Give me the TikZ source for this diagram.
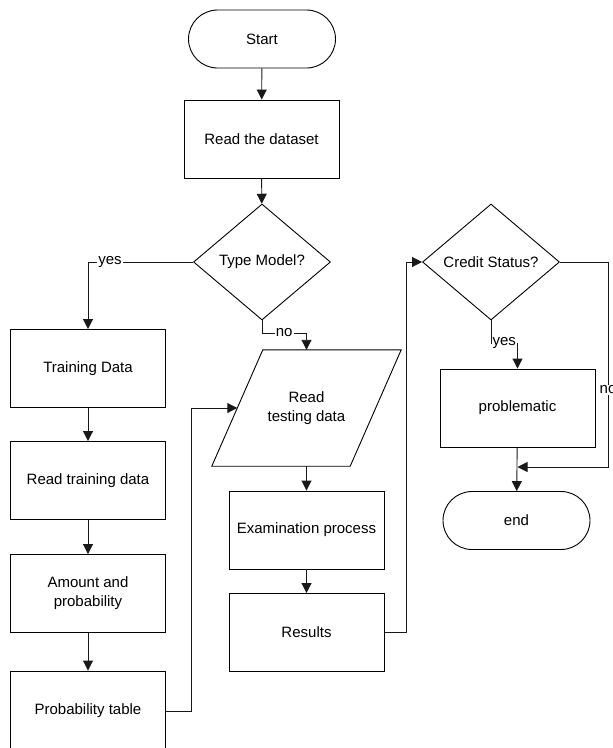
\documentclass[tikz,border=0pt]{standalone}
\usepackage{fontspec}
\setmainfont{Liberation Sans}
\usetikzlibrary{shapes.geometric,arrows.meta}
\begin{document}
\begin{tikzpicture}[x=1pt,y=-1pt,
  font=\fontsize{15}{19}\selectfont,
  box/.style={draw=black,line width=0.9pt,minimum width=155pt,minimum height=78pt,inner sep=0pt,align=center},
  term/.style={draw=black,line width=0.9pt,minimum width=147pt,minimum height=58pt,rounded corners=29pt,inner sep=0pt},
  decide/.style={draw=black,line width=0.9pt,shape=diamond,minimum width=137pt,minimum height=116pt,inner sep=0pt,aspect=1.18},
  conn/.style={draw=black!90,line width=0.9pt,-{Triangle[length=10pt,width=10pt]}},
  lbl/.style={fill=white,inner sep=1pt}
]
\useasboundingbox (0,0) rectangle (613,748);

% nodes
\node[term] (start) at (262,39) {Start};
\node[box] (read) at (261.5,139) {Read the dataset};
\node[decide] (type) at (262,262) {Type Model?};
\node[box] (train) at (88,368.5) {Training Data};
\node[box] (readtrain) at (88,480.5) {Read training data};
\node[box] (amount) at (88,593.5) {Amount and\\probability};
\node[box,minimum height=80pt] (probt) at (88,711) {Probability table};
\node[minimum width=138pt,minimum height=116pt,inner sep=0pt,align=center] (readtest) at (306.5,408) {Read\\testing data};
\draw[line width=0.9pt] ([xshift=25.5pt]readtest.north west) -- ([xshift=25.5pt]readtest.north east)
  -- ([xshift=-25.5pt]readtest.south east) -- ([xshift=-25.5pt]readtest.south west) -- cycle;
\node[box] (exam) at (306.5,530) {Examination process};
\node[box] (results) at (306.5,632.5) {Results};
\node[decide] (credit) at (491,262) {Credit Status?};
\node[box] (prob) at (517.5,408) {problematic};
\node[term] (end) at (516.5,520.5) {end};
\coordinate (merge) at (517.5,467);

% connectors
\draw[conn] (start) -- (read);
\draw[conn] (read) -- (type);
\draw[conn] (type.west) -- node[lbl,pos=0.79]{yes} (88,262) -- (train.north);
\draw[conn] (type.south) -- (262,333) -- node[lbl]{no} (306.5,333) -- (readtest.north);
\draw[conn] (train) -- (readtrain);
\draw[conn] (readtrain) -- (amount);
\draw[conn] (amount) -- (probt);
\draw[conn] (probt.east) -- (191,711) |- (readtest.west);
\draw[conn] (readtest.south) -- (exam.north);
\draw[conn] (exam) -- (results);
\draw[conn] (results.east) -- (406,632.5) |- (credit.west);
\draw[conn] (credit.south) -- (491,343) -- node[lbl]{yes} (517.5,343) -- (prob.north);
\draw[conn] (credit.east) -- (608,262) -- node[lbl,pos=0.624]{no} (608,467) -- (merge);
\draw[conn] (prob) -- (end);
\end{tikzpicture}
\end{document}
